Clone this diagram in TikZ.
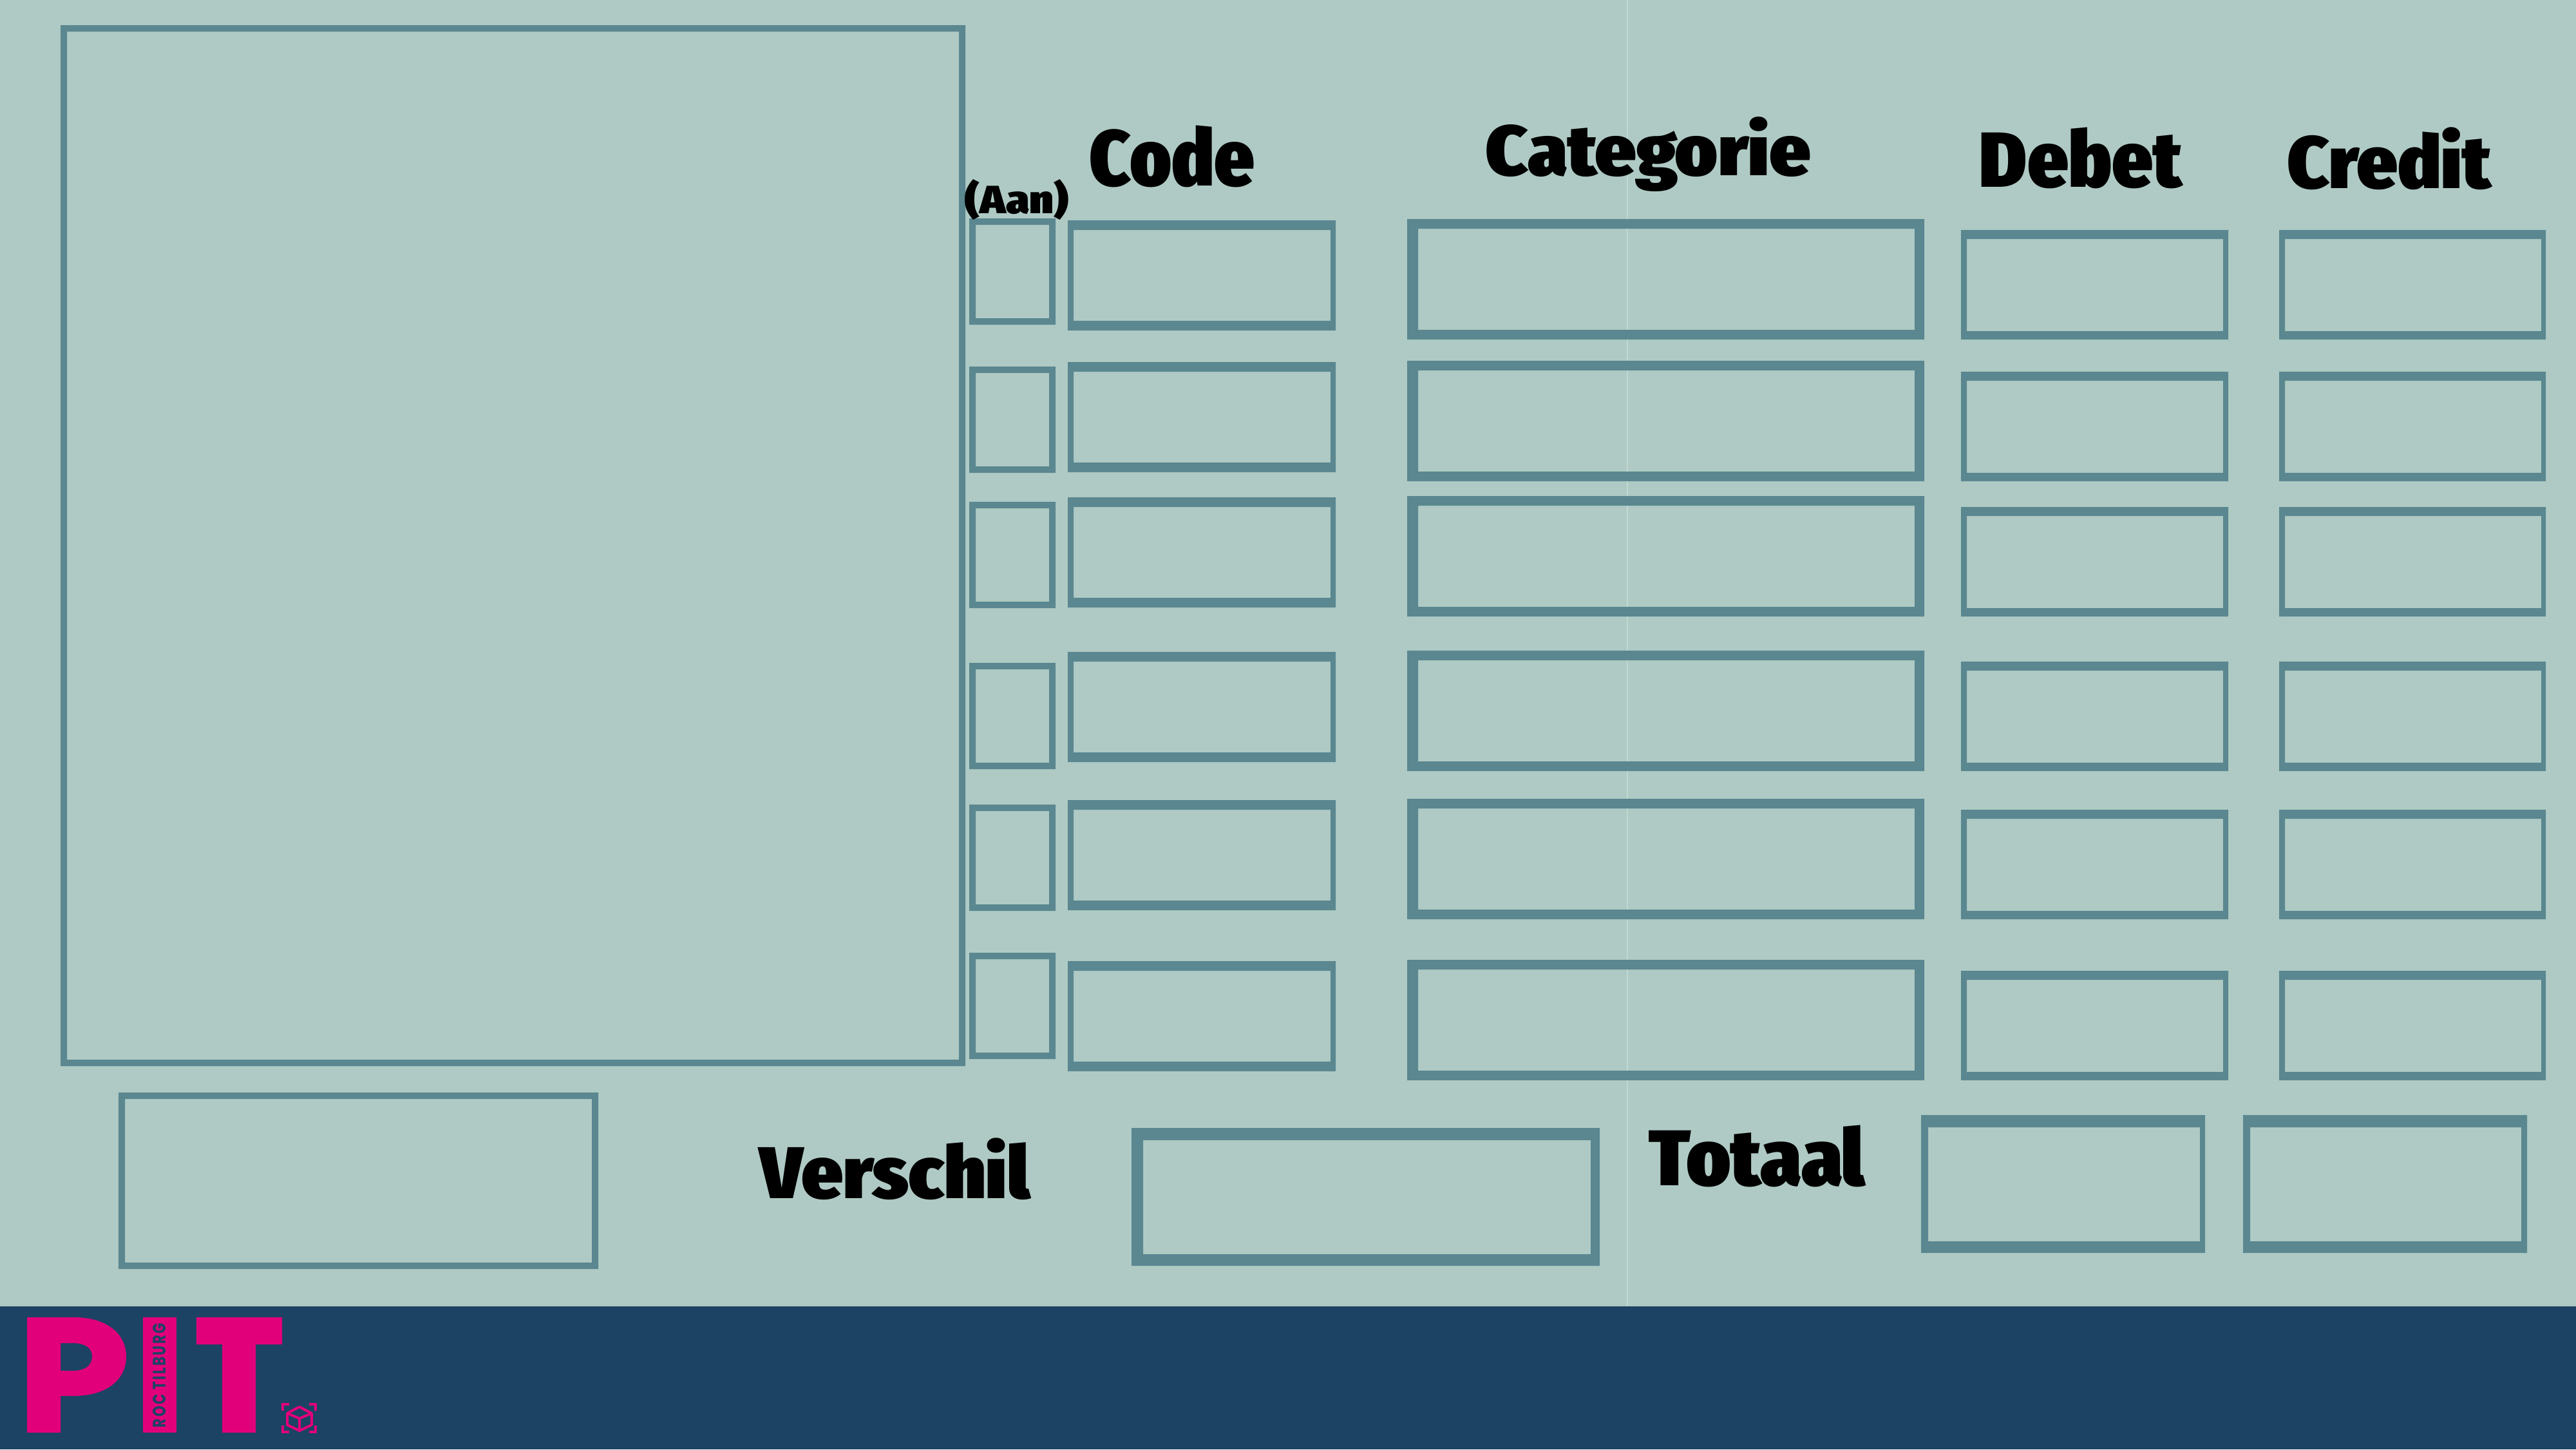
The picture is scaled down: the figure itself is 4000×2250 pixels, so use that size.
\documentclass[tikz,border=0pt]{standalone}
\usepackage{fontspec}
\usepackage{graphicx}
\newfontfamily\headfont{Fira Sans Extra Condensed Black}
\newfontfamily\rocfont[LetterSpace=12]{Poppins Bold}
\definecolor{pagebg}{HTML}{AFCAC4}
\definecolor{framecol}{HTML}{5A8790}
\definecolor{bandcol}{HTML}{1C4363}
\definecolor{pitpink}{HTML}{E2007A}
\definecolor{seamcol}{HTML}{BFD8D3}
\newcommand{\fitlabel}[3]{\resizebox*{#1cm}{#2cm}{\headfont #3}}
\tikzset{
  framefill/.style={fill=framecol,even odd rule},
  headlabel/.style={inner sep=0pt,text=black},
  cubeline/.style={draw=pitpink,line width=.04cm,line join=round}
}

\begin{document}
\begin{tikzpicture}[x=0.01cm,y=-0.01cm]
\useasboundingbox (0,0) rectangle (4000,2250);
\fill[pagebg] (0,0) rectangle (4000,2250);
\draw[seamcol,line width=.015cm] (2527,0) -- (2527,2028);
\fill[bandcol] (0,2028) rectangle (4000,2250);
% big frame and the box under it
\fill[framefill] (94,39) rectangle (1499,1655) (104,49) rectangle (1489,1645);
\fill[framefill] (184,1696) rectangle (929,1970) (194,1706) rectangle (919,1960);
% the six rows, column by column
\foreach \t in {339,569,779,1029,1249,1479}
  \fill[framefill] (1505,\t) rectangle (1639,\t+165) (1515,\t+10) rectangle (1629,\t+155);
\foreach \t in {342,562,772,1012,1242,1492}
  \fill[framefill] (1658,\t) rectangle (2074,\t+171) (1667,\t+15) rectangle (2066,\t+156);
\foreach \t in {340,560,770,1010,1240,1490}
  \fill[framefill] (2185,\t) rectangle (2988,\t+187) (2202,\t+15) rectangle (2973,\t+172);
\foreach \t in {357,577,787,1027,1257,1507} {
  \fill[framefill] (3045,\t) rectangle (3460,\t+170) (3054,\t+14) rectangle (3452,\t+157);
  \fill[framefill] (3539,\t) rectangle (3953,\t+170) (3548,\t+14) rectangle (3946,\t+157);
}
% bottom row
\fill[framefill] (1757,1751) rectangle (2484,1965) (1775,1770) rectangle (2470,1947);
\fill[framefill] (2983,1731) rectangle (3424,1945) (2994,1750) rectangle (3416,1927);
\fill[framefill] (3483,1731) rectangle (3924,1945) (3494,1750) rectangle (3915,1927);
% labels
\node[headlabel] (aan) at (1579,310.5) {\fitlabel{1.60}{0.63}{(Aan)}};
\node[headlabel] (code) at (1820,243) {\fitlabel{2.56}{0.96}{Code}};
\node[headlabel] (categorie) at (2559.5,239) {\fitlabel{5.05}{1.16}{Categorie}};
\node[headlabel] (debet) at (3231,245.5) {\fitlabel{3.14}{0.95}{Debet}};
\node[headlabel] (credit) at (3710,246.5) {\fitlabel{3.16}{0.97}{Credit}};
\node[headlabel] (verschil) at (1389.5,1815) {\fitlabel{4.19}{0.96}{Verschil}};
\node[headlabel] (totaal) at (2728.5,1795) {\fitlabel{3.35}{0.96}{Totaal}};
% logo
\fill[pitpink,even odd rule] (42,2045) -- (115,2045) .. controls (165,2045) and (196,2070) .. (196,2106)
  .. controls (196,2142) and (165,2167) .. (115,2167) -- (94,2167) -- (94,2224) -- (42,2224) -- cycle
  (94,2085) -- (112,2085) .. controls (132,2085) and (143,2092) .. (143,2106)
  .. controls (143,2120) and (132,2128) .. (112,2128) -- (94,2128) -- cycle;
\fill[pitpink] (222,2045) rectangle (274,2224);
\fill[pitpink] (305,2045) -- (438,2045) -- (438,2087) -- (397,2087) -- (397,2224) -- (345,2224) -- (345,2087) -- (305,2087) -- cycle;
\node[inner sep=0pt,rotate=90,text=bandcol] (roc) at (248,2135)
  {\resizebox{1.62cm}{0.2cm}{\rocfont ROC TILBURG}};
% cube icon
\draw[cubeline] (465,2184) -- (484,2194) -- (484,2212) -- (465,2221) -- (446,2212) -- (446,2194) -- cycle;
\draw[cubeline] (446,2194) -- (465,2202) -- (484,2194) (465,2202) -- (465,2221);
\foreach \cx/\cy/\sx/\sy in {439/2180/1/1,490/2180/-1/1,439/2223/1/-1,490/2223/-1/-1}
  \draw[pitpink,line width=.04cm] (\cx,\cy+\sy*10) -- (\cx,\cy) -- (\cx+\sx*10,\cy);
\end{tikzpicture}
\end{document}
